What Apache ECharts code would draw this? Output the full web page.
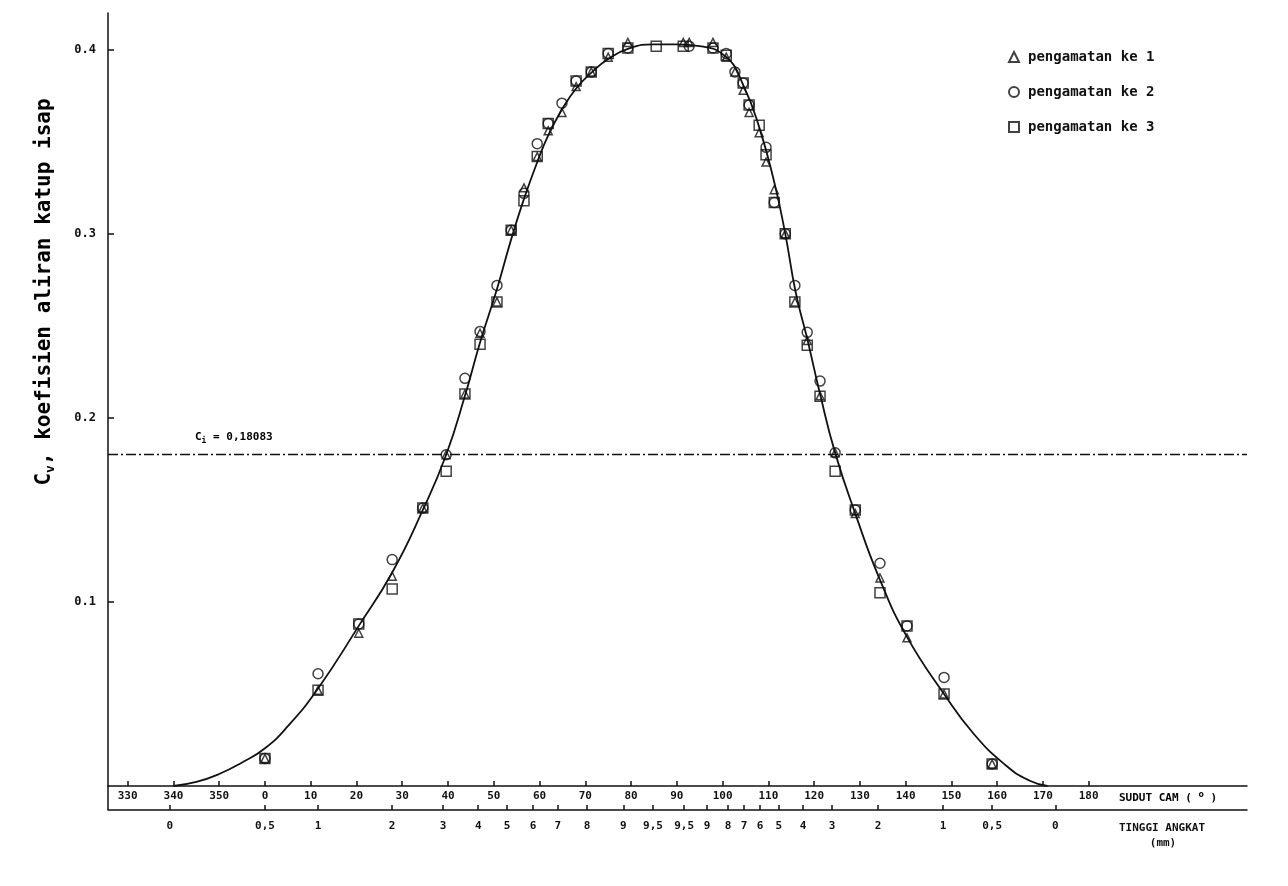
<!DOCTYPE html>
<html>
<head>
<meta charset="utf-8">
<script src="https://cdn.jsdelivr.net/npm/echarts@6/dist/echarts.min.js"></script>
<style>
  html, body { margin: 0; padding: 0; background: #fff; }
  #chart { width: 1288px; height: 886px; }
</style>
</head>
<body>
<div id="chart"></div>
<script>
// sudut cam (derajat, 330..350 ditulis -30..-10) dan Cv
var camTicks = [-30, -20, -10, 0, 10, 20, 30, 40, 50, 60, 70, 80, 90, 100, 110, 120, 130, 140, 150, 160, 170, 180];
var cvTicks = [0.1, 0.2, 0.3, 0.4];

// posisi label tinggi angkat (mm) pada sumbu sudut
var liftPos = [-20.8, 0, 11.6, 27.8, 38.9, 46.6, 52.9, 58.6, 64.0, 70.4, 78.3, 84.8, 91.6, 96.6, 101.2, 104.7, 108.2, 112.3, 117.6, 123.9, 134.0, 148.2, 158.9, 172.7];
var liftLabels = ['0', '0,5', '1', '2', '3', '4', '5', '6', '7', '8', '9', '9,5', '9,5', '9', '8', '7', '6', '5', '4', '3', '2', '1', '0,5', '0'];

var cf = 0.18083;

// kurva hasil pendekatan
var curve = [
    [-20, 0], [-15, 0.0022], [-10, 0.0065], [-5, 0.0128], [0, 0.0205], [5, 0.0325], [11.6, 0.053],
    [20.5, 0.087], [27.8, 0.116], [34.5, 0.150], [39.6, 0.180], [43.7, 0.212], [47, 0.241],
    [50.7, 0.270], [53.8, 0.297], [56.6, 0.319], [59.5, 0.339], [62, 0.354], [65, 0.368],
    [68, 0.379], [71.3, 0.3875], [75, 0.395], [79.3, 0.4005], [85, 0.403], [90, 0.403],
    [95, 0.402], [100.8, 0.396], [104.5, 0.381], [108, 0.358], [111.3, 0.328], [113.7, 0.300],
    [116, 0.268], [118.5, 0.243], [121.3, 0.213], [124.6, 0.181], [129, 0.148], [134.4, 0.112],
    [140.3, 0.081], [148.4, 0.050], [155, 0.028], [162, 0.011], [167, 0.003], [171, 0]
];

// pengamatan ke 1 (segitiga)
var obs1 = [
    [0, 0.015], [11.6, 0.052], [20.5, 0.083], [27.8, 0.114], [34.5, 0.151], [39.6, 0.180],
    [43.7, 0.213], [47, 0.246], [50.7, 0.263], [53.8, 0.302], [56.6, 0.325], [59.5, 0.342],
    [61.9, 0.356], [64.9, 0.366], [68, 0.380], [71.3, 0.388], [75, 0.396], [79.3, 0.404],
    [91.4, 0.404], [92.7, 0.404], [97.9, 0.404], [100.8, 0.396], [102.7, 0.388], [104.5, 0.378],
    [105.8, 0.366], [108, 0.355], [109.5, 0.339], [111.3, 0.324], [113.7, 0.300], [115.8, 0.263],
    [118.5, 0.242], [121.3, 0.212], [124.6, 0.181], [129, 0.148], [134.4, 0.113], [140.3, 0.0805],
    [148.4, 0.050], [158.9, 0.012]
];

// pengamatan ke 2 (lingkaran)
var obs2 = [
    [0, 0.015], [11.6, 0.061], [20.5, 0.088], [27.8, 0.123], [34.5, 0.151], [39.6, 0.180],
    [43.7, 0.2215], [47, 0.247], [50.7, 0.272], [53.8, 0.302], [56.6, 0.322], [59.5, 0.349],
    [61.9, 0.360], [64.9, 0.371], [68, 0.383], [71.3, 0.388], [75, 0.398], [79.3, 0.401],
    [92.7, 0.402], [97.9, 0.401], [100.8, 0.398], [102.7, 0.388], [104.5, 0.382], [105.8, 0.370],
    [109.5, 0.347], [111.3, 0.317], [113.7, 0.300], [115.8, 0.272], [118.5, 0.2465], [121.3, 0.220],
    [124.6, 0.181], [129, 0.150], [134.4, 0.121], [140.3, 0.087], [148.4, 0.059], [158.9, 0.012]
];

// pengamatan ke 3 (bujur sangkar)
var obs3 = [
    [0, 0.015], [11.6, 0.052], [20.5, 0.088], [27.8, 0.107], [34.5, 0.151], [39.6, 0.171],
    [43.7, 0.213], [47, 0.240], [50.7, 0.263], [53.8, 0.302], [56.6, 0.318], [59.5, 0.342],
    [61.9, 0.360], [68, 0.383], [71.3, 0.388], [75, 0.398], [79.3, 0.401], [85.5, 0.402],
    [91.4, 0.402], [97.9, 0.401], [100.8, 0.397], [104.5, 0.382], [105.8, 0.370], [108, 0.359],
    [109.5, 0.343], [111.3, 0.317], [113.7, 0.300], [115.8, 0.263], [118.5, 0.2395], [121.3, 0.2117],
    [124.6, 0.171], [129, 0.150], [134.4, 0.105], [140.3, 0.087], [148.4, 0.050], [158.9, 0.012]
];

var FONT = 'DejaVu Sans Mono';

var hollow = {
    color: 'rgba(0,0,0,0)',
    borderColor: '#111',
    borderWidth: 1.5
};

var myChart = echarts.init(document.getElementById('chart'));

var option = {
    animation: false,
    backgroundColor: '#fff',
    grid: {
        left: 108,
        right: 41,
        top: 13,
        bottom: 100
    },
    legend: {
        orient: 'vertical',
        left: 1003,
        top: 45,
        itemWidth: 10,
        itemHeight: 10,
        itemGap: 21,
        selectedMode: false,
        textStyle: {
            fontFamily: FONT,
            fontWeight: 'bold',
            fontSize: 14,
            color: '#111',
            padding: [0, 0, 0, 4]
        },
        data: ['pengamatan ke 1', 'pengamatan ke 2', 'pengamatan ke 3']
    },
    xAxis: [
        {
            type: 'value',
            min: -34.3,
            max: 214.6,
            position: 'bottom',
            axisLine: {
                onZero: false,
                lineStyle: { color: '#111', width: 1.5 }
            },
            axisTick: {
                inside: true,
                length: 5,
                customValues: camTicks,
                lineStyle: { color: '#111', width: 1.5 }
            },
            axisLabel: {
                customValues: camTicks,
                margin: 5,
                fontFamily: FONT,
                fontWeight: 'bold',
                fontSize: 11,
                color: '#111',
                formatter: function(v) {
                    return v < 0 ? String(v + 360) : String(v);
                }
            },
            splitLine: { show: false }
        },
        {
            type: 'value',
            min: -34.3,
            max: 214.6,
            position: 'bottom',
            offset: 24,
            axisLine: {
                onZero: false,
                lineStyle: { color: '#111', width: 1.5 }
            },
            axisTick: {
                inside: true,
                length: 5,
                customValues: liftPos,
                lineStyle: { color: '#111', width: 1.5 }
            },
            axisLabel: {
                customValues: liftPos,
                margin: 11,
                fontFamily: FONT,
                fontWeight: 'bold',
                fontSize: 11,
                color: '#111',
                formatter: function(v) {
                    var i = liftPos.indexOf(v);
                    return i >= 0 ? liftLabels[i] : '';
                }
            },
            splitLine: { show: false }
        }
    ],
    yAxis: {
        type: 'value',
        min: 0,
        max: 0.42,
        axisLine: {
            show: true,
            onZero: false,
            lineStyle: { color: '#111', width: 1.5 }
        },
        axisTick: {
            inside: true,
            length: 6,
            customValues: cvTicks,
            lineStyle: { color: '#111', width: 1.5 }
        },
        axisLabel: {
            customValues: cvTicks,
            margin: 12,
            fontFamily: FONT,
            fontWeight: 'bold',
            fontSize: 12,
            color: '#111',
            formatter: function(v) {
                return v.toFixed(1);
            }
        },
        splitLine: { show: false }
    },
    graphic: [
        {
            // sambungan sumbu tegak ke garis bawah
            type: 'line',
            shape: { x1: 108, y1: 786, x2: 108, y2: 810 },
            style: { stroke: '#111', lineWidth: 1.5 }
        },
        {
            type: 'text',
            x: 45,
            y: 292,
            rotation: Math.PI / 2,
            style: {
                text: '{a|C}{s|v}{a|, koefisien aliran katup isap}',
                align: 'center',
                verticalAlign: 'middle',
                rich: {
                    a: { fontFamily: FONT, fontSize: 21, fontWeight: 'bold', color: '#111' },
                    s: { fontFamily: FONT, fontSize: 13, fontWeight: 'bold', color: '#111', padding: [12, 0, 0, 0] }
                }
            }
        },
        {
            type: 'text',
            x: 195,
            y: 437,
            style: {
                text: '{a|C}{s|i}{a| = 0,18083}',
                align: 'left',
                verticalAlign: 'middle',
                rich: {
                    a: { fontFamily: FONT, fontWeight: 'bold', fontSize: 11, color: '#111' },
                    s: { fontFamily: FONT, fontWeight: 'bold', fontSize: 8, color: '#111', padding: [8, 0, 0, 0] }
                }
            }
        },
        {
            type: 'text',
            x: 1119,
            y: 798,
            style: {
                text: '{a|SUDUT CAM ( }{o|o}{a| )}',
                align: 'left',
                verticalAlign: 'middle',
                rich: {
                    a: { fontFamily: FONT, fontWeight: 'bold', fontSize: 11, color: '#111' },
                    o: { fontFamily: FONT, fontWeight: 'bold', fontSize: 9, color: '#111', padding: [0, 0, 7, 0] }
                }
            }
        },
        {
            type: 'text',
            x: 1119,
            y: 828,
            style: {
                text: 'TINGGI ANGKAT',
                fontFamily: FONT,
                fontWeight: 'bold',
                fontSize: 11,
                fill: '#111',
                align: 'left',
                verticalAlign: 'middle'
            }
        },
        {
            type: 'text',
            x: 1163,
            y: 843,
            style: {
                text: '(mm)',
                fontFamily: FONT,
                fontWeight: 'bold',
                fontSize: 11,
                fill: '#111',
                align: 'center',
                verticalAlign: 'middle'
            }
        }
    ],
    series: [
        {
            name: 'kurva',
            type: 'line',
            xAxisIndex: 0,
            data: curve,
            smooth: 0.5,
            showSymbol: false,
            silent: true,
            z: 1,
            lineStyle: { color: '#111', width: 1.8 },
            markLine: {
                silent: true,
                symbol: 'none',
                label: { show: false },
                lineStyle: { color: '#111', width: 1.3, type: [10, 3, 2, 3] },
                data: [{ yAxis: cf }]
            }
        },
        {
            name: 'pengamatan ke 1',
            type: 'scatter',
            xAxisIndex: 0,
            data: obs1,
            symbol: 'triangle',
            symbolSize: 8,
            z: 3,
            itemStyle: hollow
        },
        {
            name: 'pengamatan ke 2',
            type: 'scatter',
            xAxisIndex: 0,
            data: obs2,
            symbol: 'circle',
            symbolSize: 10,
            z: 3,
            itemStyle: hollow
        },
        {
            name: 'pengamatan ke 3',
            type: 'scatter',
            xAxisIndex: 0,
            data: obs3,
            symbol: 'rect',
            symbolSize: 10,
            z: 3,
            itemStyle: hollow
        }
    ]
};

myChart.setOption(option);
</script>
</body>
</html>
